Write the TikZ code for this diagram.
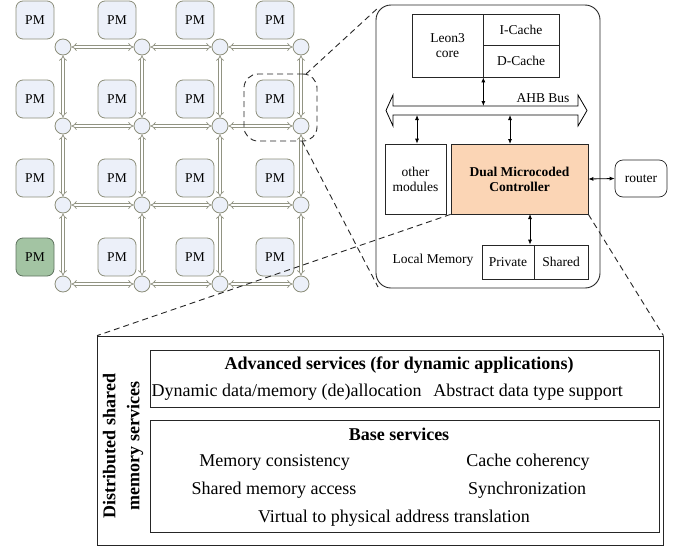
\documentclass[tikz,border=0pt]{standalone}
\usepackage{fontspec}
\setmainfont{Liberation Serif}
\usetikzlibrary{arrows.meta,calc}
\definecolor{pmfill}{RGB}{236,240,249}
\definecolor{pmdraw}{RGB}{140,142,122}
\definecolor{gfill}{RGB}{163,196,163}
\definecolor{gdraw}{RGB}{95,115,95}
\definecolor{linkc}{RGB}{145,147,130}
\definecolor{dmcfill}{RGB}{251,213,181}
\begin{document}
\begin{tikzpicture}[x=1pt,y=-1pt,
 pmbox/.style={draw=pmdraw, fill=pmfill, line width=0.8pt, rounded corners=7pt, minimum width=38pt, minimum height=38pt, inner sep=0pt, font=\fontsize{13.5}{15}\selectfont},
 greenpm/.style={pmbox, draw=gdraw, fill=gfill},
 rtr/.style={circle, draw=pmdraw, fill=pmfill, line width=0.8pt, minimum size=16pt, inner sep=0pt},
 link/.style={draw=linkc, line width=0.75pt, double=white, double distance=2pt, {Implies}-{Implies}},
 blk/.style={draw=black!85, line width=0.7pt, inner sep=0pt, align=center, font=\fontsize{13.5}{15}\selectfont},
 biarrow/.style={{Latex[length=5pt,width=4pt]}-{Latex[length=5pt,width=4pt]}, line width=0.8pt},
 zoomline/.style={dash pattern=on 6pt off 4pt, line width=0.9pt, draw=black!85},
 txt/.style={inner sep=0pt, font=\fontsize{13.5}{15}\selectfont},
 btxt/.style={inner sep=0pt, font=\fontsize{18}{21}\selectfont},
 bbox/.style={draw=black!85, line width=0.8pt, inner sep=0pt}]
\useasboundingbox (0,0) rectangle (676,546);

% ---------- mesh ----------
\foreach \c/\x in {1/63,2/142,3/220,4/301}{
  \foreach \r/\y in {1/47,2/126,3/205,4/284}{
    \node[rtr] (r-\r-\c) at (\x,\y) {};
  }
}
\foreach \c/\x in {1/35,2/117,3/195,4/275}{
  \foreach \r/\y in {1/20,2/99,3/178}{
    \node[pmbox] (pm-\r-\c) at (\x,\y) {PM};
  }
}
\node[greenpm] (pm-4-1) at (35,257) {PM};
\foreach \c/\x in {2/117,3/195,4/275}{
  \node[pmbox] (pm-4-\c) at (\x,257) {PM};
}
\foreach \r in {1,2,3,4}{
  \foreach \c [evaluate=\c as \n using int(\c+1)] in {1,2,3}{
    \draw[link] (r-\r-\c) -- (r-\r-\n);
  }
}
\foreach \c in {1,2,3,4}{
  \foreach \r [evaluate=\r as \n using int(\r+1)] in {1,2,3}{
    \draw[link] (r-\r-\c) -- (r-\n-\c);
  }
}
\node[zoomline, draw=black!85, rounded corners=14pt, minimum width=73pt, minimum height=67pt, inner sep=0pt] (zoom) at (280.5,107.5) {};

% ---------- tile detail ----------
\node[draw=black!85, line width=0.9pt, rounded corners=15pt, minimum width=224pt, minimum height=283pt, inner sep=0pt] (rbox) at (488,146.5) {};
\node[blk, minimum width=71pt, minimum height=63pt] (leon) at (447.5,45.5) {Leon3\\core};
\node[blk, minimum width=76pt, minimum height=31pt] (icache) at (521,29.5) {I-Cache};
\node[blk, minimum width=76pt, minimum height=32pt] (dcache) at (521,61) {D-Cache};

\draw[line width=0.8pt] (393,106) -- (578,106) -- (578,95) -- (587,110.5) -- (578,126) -- (578,115)
  -- (393,115) -- (393,126) -- (386,110.5) -- (393,95) -- cycle;
\coordinate (bustop) at (480,106);
\coordinate (busbot) at (480,115);
\node[txt] (ahb) at (543,98) {AHB Bus};

\node[blk, minimum width=61pt, minimum height=70pt] (other) at (415.5,179) {other\\modules};
\node[blk, fill=dmcfill, minimum width=137pt, minimum height=70pt, font=\fontsize{13.5}{15}\selectfont\bfseries] (dmc) at (519.5,179) {Dual Microcoded\\Controller};
\node[blk, rounded corners=8pt, minimum width=52pt, minimum height=37pt] (router) at (641,178.5) {router};
\node[blk, minimum width=52pt, minimum height=34pt] (priv) at (508,262) {Private};
\node[blk, minimum width=54pt, minimum height=34pt] (shared) at (561,262) {Shared};
\node[txt] (lm) at (433,260) {Local Memory};

\draw[biarrow] (leon.south east) -- (leon.south east |- bustop);
\draw[biarrow] (other.north -| 417,0) -- (417,0 |- busbot);
\coordinate (dmcup) at (510,144);
\draw[biarrow] (dmcup) -- (dmcup |- busbot);
\draw[biarrow] (dmc.east) -- (router.west);
\coordinate (dmcdown) at (530,214);
\draw[biarrow] (dmcdown) -- (dmcdown |- priv.north);

% zoom lines from mesh
\coordinate (zt) at (306,74);
\coordinate (zb) at (302,141);
\coordinate (rt) at (379,7);
\coordinate (rb) at (378,287);
\draw[zoomline] (zt) -- (rt);
\draw[zoomline] (zb) -- (rb);

% ---------- services panel ----------
\node[bbox, minimum width=565.5pt, minimum height=209pt] (panel) at (380.25,440.5) {};
\node[bbox, minimum width=509pt, minimum height=57pt] (adv) at (404.5,378.5) {};
\node[bbox, minimum width=509pt, minimum height=112pt] (base) at (404.5,476) {};
\node[btxt, font=\fontsize{18}{21}\selectfont\bfseries] (advt) at (399,365) {Advanced services (for dynamic applications)};
\node[btxt] (dyn) at (286.5,392) {Dynamic data/memory (de)allocation};
\node[btxt] (adt) at (528,392) {Abstract data type support};
\node[btxt, font=\fontsize{18}{21}\selectfont\bfseries] (baset) at (399,434) {Base services};
\node[btxt] (mc) at (274.5,462) {Memory consistency};
\node[btxt] (cc) at (528,462) {Cache coherency};
\node[btxt] (sma) at (274,490) {Shared memory access};
\node[btxt] (sync) at (527,490) {Synchronization};
\node[btxt] (v2p) at (394,518) {Virtual to physical address translation};
\node[inner sep=0pt, rotate=90, align=center, font=\fontsize{18}{24}\selectfont\bfseries] (dsm) at (123,446) {Distributed shared\\memory services};

\draw[zoomline] (dmc.south west) -- (panel.north west);
\draw[zoomline] (dmc.south east) -- (panel.north east);
\end{tikzpicture}
\end{document}
